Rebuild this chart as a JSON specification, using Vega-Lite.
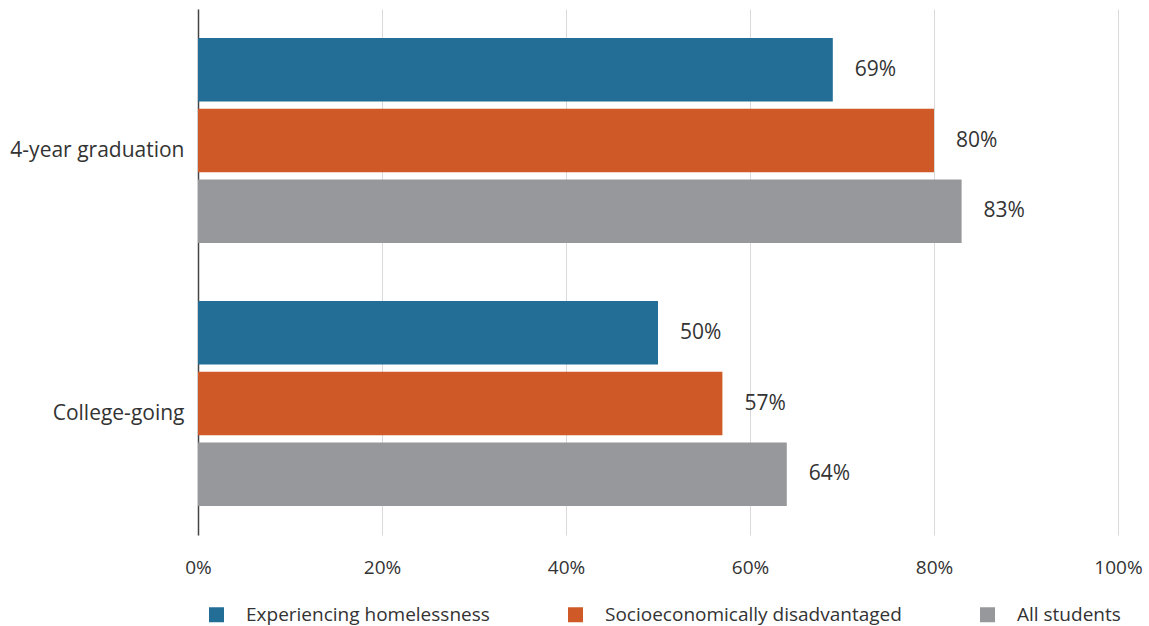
{
  "$schema": "https://vega.github.io/schema/vega-lite/v6.json",
  "width": 920,
  "height": 526,
  "autosize": {"type": "none"},
  "padding": {"left": 198, "top": 9, "right": 31, "bottom": 91},
  "background": "white",
  "config": {
    "view": {"stroke": null},
    "font": "Open Sans",
    "text": {"font": "Open Sans"}
  },
  "data": {
    "values": [
      {"measure": "4-year graduation", "group": "Experiencing homelessness", "value": 0.69},
      {"measure": "4-year graduation", "group": "Socioeconomically disadvantaged", "value": 0.80},
      {"measure": "4-year graduation", "group": "All students", "value": 0.83},
      {"measure": "College-going", "group": "Experiencing homelessness", "value": 0.50},
      {"measure": "College-going", "group": "Socioeconomically disadvantaged", "value": 0.57},
      {"measure": "College-going", "group": "All students", "value": 0.64}
    ]
  },
  "encoding": {
    "y": {
      "field": "measure",
      "type": "nominal",
      "sort": ["4-year graduation", "College-going"],
      "scale": {"paddingInner": 0.22, "paddingOuter": 0.11},
      "axis": {
        "title": null,
        "ticks": false,
        "domain": true,
        "domainColor": "#444444",
        "domainWidth": 1.5,
        "labelFontSize": 21,
        "labelColor": "#333333",
        "labelFont": "Open Sans",
        "labelPadding": 14,
        "labelOffset": 10,
        "labelLimit": 300
      }
    },
    "yOffset": {
      "field": "group",
      "type": "nominal",
      "sort": ["Experiencing homelessness", "Socioeconomically disadvantaged", "All students"],
      "scale": {"paddingInner": 0.1}
    },
    "x": {
      "field": "value",
      "type": "quantitative",
      "scale": {"domain": [0, 1]},
      "axis": {
        "title": null,
        "format": ".0%",
        "values": [0, 0.2, 0.4, 0.6, 0.8, 1],
        "grid": true,
        "gridColor": "#d9d9d9",
        "gridWidth": 1,
        "domain": false,
        "ticks": false,
        "labelFontSize": 19,
        "labelColor": "#333333",
        "labelFont": "Open Sans",
        "labelPadding": 23,
        "labelOverlap": false,
        "labelFlush": false,
        "labelBound": false
      }
    }
  },
  "layer": [
    {
      "mark": {"type": "bar"},
      "encoding": {
        "color": {
          "field": "group",
          "type": "nominal",
          "scale": {
            "domain": ["Experiencing homelessness", "Socioeconomically disadvantaged", "All students"],
            "range": ["#236e96", "#cf5a27", "#97989b"]
          },
          "legend": {
            "title": null,
            "orient": "none",
            "direction": "horizontal",
            "legendX": 9,
            "legendY": 596,
            "symbolType": "square",
            "symbolSize": 225,
            "symbolStrokeWidth": 0,
            "symbolOpacity": 1,
            "labelFontSize": 19,
            "labelColor": "#333333",
            "labelFont": "Open Sans",
            "labelOffset": 20,
            "labelLimit": 400,
            "columnPadding": 76,
            "gridAlign": "each"
          }
        }
      }
    },
    {
      "mark": {"type": "text", "align": "left", "baseline": "middle", "dx": 22, "fontSize": 21, "color": "#333333"},
      "encoding": {
        "text": {"field": "value", "type": "quantitative", "format": ".0%"}
      }
    }
  ]
}
